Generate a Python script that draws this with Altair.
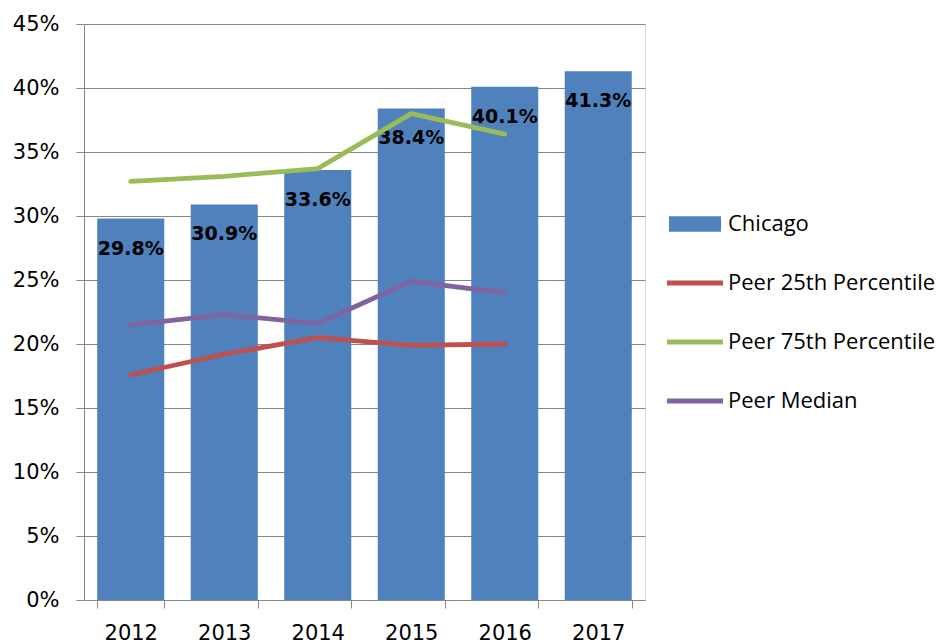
import altair as alt
import pandas as pd

years = ["2012", "2013", "2014", "2015", "2016", "2017"]
chicago = [0.298, 0.309, 0.336, 0.384, 0.401, 0.413]
chicago_labels = ["29.8%", "30.9%", "33.6%", "38.4%", "40.1%", "41.3%"]

line_years = ["2012", "2013", "2014", "2015", "2016"]
p25 = [0.176, 0.192, 0.205, 0.199, 0.200]
p75 = [0.327, 0.331, 0.337, 0.380, 0.364]
median = [0.215, 0.223, 0.216, 0.249, 0.240]

series_names = ["Chicago", "Peer 25th Percentile", "Peer 75th Percentile", "Peer Median"]
series_colors = ["#4F81BD", "#C0504D", "#9BBB59", "#8064A2"]
y_ticks = [0, 0.05, 0.10, 0.15, 0.20, 0.25, 0.30, 0.35, 0.40, 0.45]

bar_df = pd.DataFrame({"year": years, "value": chicago, "label": chicago_labels,
                       "series": series_names[0]})
line_df = pd.concat([
    pd.DataFrame({"year": line_years, "value": p25, "series": series_names[1]}),
    pd.DataFrame({"year": line_years, "value": p75, "series": series_names[2]}),
    pd.DataFrame({"year": line_years, "value": median, "series": series_names[3]}),
])
legend_df = pd.DataFrame({"series": series_names})

GRID = "#868686"

x_enc = alt.X(
    "year:N",
    scale=alt.Scale(domain=years, paddingInner=0.283, paddingOuter=0.1415),
    axis=alt.Axis(
        title=None, labelAngle=0, tickBand="extent", ticks=True, tickSize=8,
        tickColor=GRID, domainColor=GRID, labelFont="DejaVu Sans",
        labelFontSize=21, labelColor="#000000", labelPadding=14, grid=False,
    ),
)
y_enc = alt.Y(
    "value:Q",
    scale=alt.Scale(domain=[0, 0.45], nice=False),
    axis=alt.Axis(
        title=None, values=y_ticks, format=".0%", tickSize=8, tickColor=GRID,
        domainColor=GRID, gridColor=GRID, grid=True, labelFont="DejaVu Sans",
        labelFontSize=21, labelColor="#000000", labelPadding=17,
    ),
)

legend_def = alt.Legend(
    title=None, orient="none", legendX=583, legendY=172,
    labelFont="Open Sans", labelFontSize=22, labelColor="#000000", labelLimit=400,
    symbolSize=3136, symbolStrokeWidth=0, labelOffset=5, rowPadding=20,
    symbolOpacity=1,
)
color_scale = alt.Scale(domain=series_names, range=series_colors)

rect_path = "M-0.93,-0.28H0.93V0.28H-0.93Z"
line_path = "M-1,-0.085H1V0.085H-1Z"

legend_layer = alt.Chart(legend_df).transform_filter("false").mark_point(
    filled=True, size=3136, opacity=1
).encode(
    color=alt.Color("series:N", scale=color_scale, legend=legend_def),
    shape=alt.Shape(
        "series:N",
        scale=alt.Scale(domain=series_names, range=[rect_path, line_path, line_path, line_path]),
        legend=legend_def,
    ),
)

bars = alt.Chart(bar_df).mark_bar().encode(
    x=x_enc, y=y_enc,
    color=alt.Color("series:N", scale=color_scale, legend=legend_def),
)

labels = alt.Chart(bar_df).mark_text(
    font="DejaVu Sans", fontWeight="bold", fontSize=19, color="#000000",
    baseline="middle", dy=30,
).encode(x=alt.X("year:N"), y=alt.Y("value:Q"), text="label:N")

lines = alt.Chart(line_df).mark_line(strokeWidth=4.8, strokeCap="round").encode(
    x=alt.X("year:N"),
    y=alt.Y("value:Q"),
    color=alt.Color("series:N", scale=color_scale, legend=legend_def),
)

chart = (
    alt.layer(legend_layer, bars, labels, lines)
    .properties(
        width=561, height=576,
        autosize=alt.AutoSizeParams(type="none"),
        padding={"left": 76, "top": 16, "right": 298, "bottom": 44},
    )
    .configure_view(stroke=None)
    .configure(background="#FFFFFF")
)

chart.save("out.html", embed_options={"renderer": "svg", "actions": False})
